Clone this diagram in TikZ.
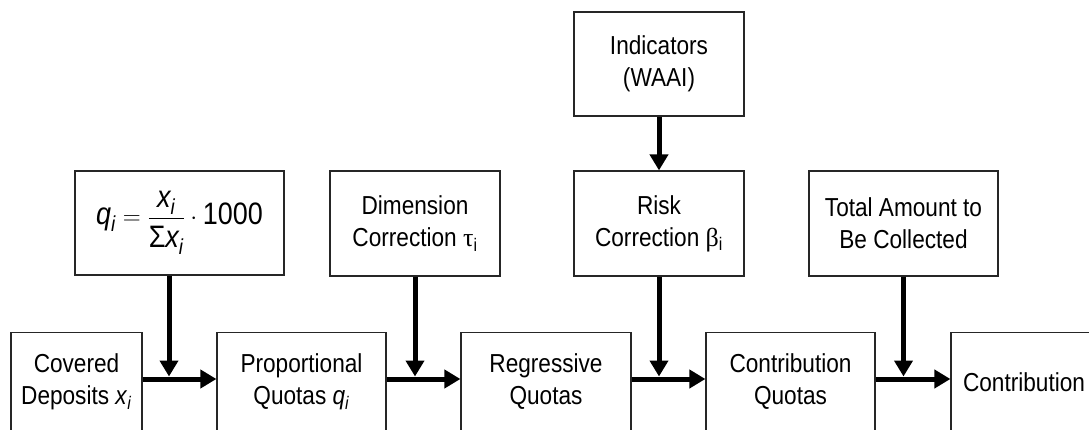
\documentclass[tikz,border=0pt]{standalone}
\usepackage{amsmath}
\usepackage{fontspec}
\setmainfont{Liberation Sans}[FakeStretch=0.87]
\newfontfamily\grk{Liberation Serif}
\usetikzlibrary{arrows.meta}

\tikzset{
  box/.style={draw=black!85, line width=1.2pt, inner sep=0pt, align=center,
    font=\fontsize{26}{32}\selectfont},
  label/.style={inner sep=0pt, align=center, font=\fontsize{26}{32}\selectfont},
  flow/.style={line width=5pt, -{Triangle[length=16pt,width=18pt]}},
}

\newcommand{\itsub}[1]{\textit{#1}\textsubscript{\textit{i}}}

\begin{document}
\begin{tikzpicture}[x=1pt, y=-1pt]
  \clip (0,0) rectangle (1089,430);
  \fill[white] (0,0) rectangle (1089,430);

  % inputs along the top
  \node[box, minimum width=170pt, minimum height=104pt] (ind) at (659,64)
    {Indicators\\(WAAI)};
  \node[box, minimum width=209pt, minimum height=104pt] (fm) at (179.5,223)
    {\fontsize{31}{36}\selectfont
     $\textit{q}_{\text{\itshape i}} \mathrel{=}
      \dfrac{\textit{x}_{\text{\itshape i}}}
            {\lower6pt\hbox{$\text{Σ}\textit{x}_{\text{\itshape i}}$}}
      \cdot\text{1000}$};
  \node[box, minimum width=170pt, minimum height=105pt] (dc) at (415,223.5)
    {Dimension\\Correction {\grk τ}\textsubscript{i}};
  \node[box, minimum width=170pt, minimum height=105pt] (rc) at (659,223.5)
    {Risk\\Correction {\grk β}\textsubscript{i}};
  \node[box, minimum width=189pt, minimum height=105pt] (ta) at (903.5,223.5)
    {Total Amount to\\Be Collected};

  % main chain of quotas (boxes run past the lower edge)
  \node[box, anchor=north, minimum width=131pt, minimum height=130pt] (cd) at (76.5,332) {};
  \node[box, anchor=north, minimum width=169pt, minimum height=130pt] (pq) at (301.5,332) {};
  \node[box, anchor=north, minimum width=170pt, minimum height=130pt] (rq) at (546,332) {};
  \node[box, anchor=north, minimum width=169pt, minimum height=130pt] (cq) at (790.5,332) {};
  \node[box, anchor=north, minimum width=200pt, minimum height=130pt] (ct) at (1051,332) {};

  \node[label] (cdt) at (76.5,382) {Covered\\Deposits \itsub{x}};
  \node[label] (pqt) at (301.5,382) {Proportional\\Quotas \itsub{q}};
  \node[label] (rqt) at (546,382) {Regressive\\Quotas};
  \node[label] (cqt) at (790.5,382) {Contribution\\Quotas};
  \node[label] (ctt) at (1024,382) {Contribution};

  % junctions on the main line
  \coordinate (row) at (0,379);
  \coordinate (j1) at (169,376.5);
  \coordinate (j2) at (415,376.5);
  \coordinate (j3) at (659,376.5);
  \coordinate (j4) at (903.5,376.5);

  \draw[flow] (cd.east |- row) -- (pq.west |- row);
  \draw[flow] (pq.east |- row) -- (rq.west |- row);
  \draw[flow] (rq.east |- row) -- (cq.west |- row);
  \draw[flow] (cq.east |- row) -- (ct.west |- row);

  \draw[flow] (fm.south -| j1) -- (j1);
  \draw[flow] (dc.south) -- (j2);
  \draw[flow] (rc.south) -- (j3);
  \draw[flow] (ta.south) -- (j4);
  \draw[flow] (ind.south) -- (rc.north);
\end{tikzpicture}
\end{document}
